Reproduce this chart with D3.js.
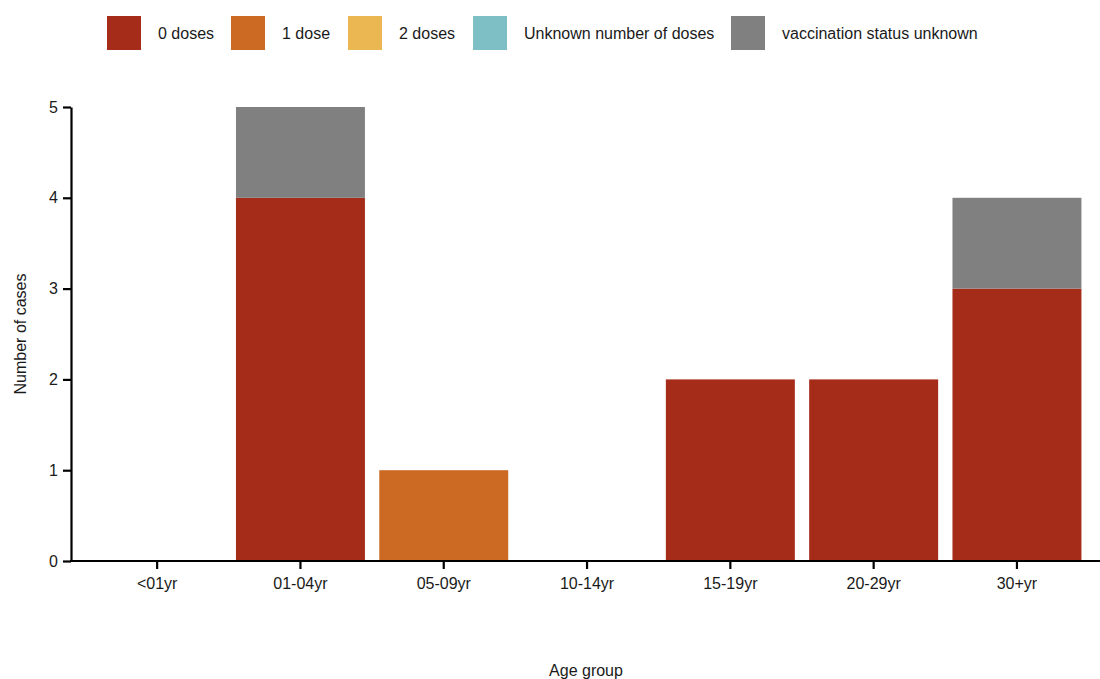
<!DOCTYPE html>
<html><head><meta charset="utf-8">
<script src="https://cdn.jsdelivr.net/npm/d3@7"></script>
<style>body{margin:0;background:#fff;font-family:"Liberation Sans",Arial,sans-serif;}</style>
</head><body><svg id="chart" width="1100" height="679"></svg>
<script>
const ageGroups = ["<01yr","01-04yr","05-09yr","10-14yr","15-19yr","20-29yr","30+yr"];
const seriesNames = ["0 doses","1 dose","2 doses","Unknown number of doses","vaccination status unknown"];
const seriesColors = ["#A62C1A","#CC6A24","#EAB753","#7EBEC5","#808080"];
const doses0 = [0,4,0,0,2,2,3];
const doses1 = [0,0,1,0,0,0,0];
const doses2 = [0,0,0,0,0,0,0];
const dosesUnknown = [0,0,0,0,0,0,0];
const statusUnknown = [0,1,0,0,0,0,1];
const yTicks = [0,1,2,3,4,5];

const FONT = "'Liberation Sans',Arial,sans-serif";
const seriesValues = [doses0,doses1,doses2,dosesUnknown,statusUnknown];
const rows = ageGroups.map((g,i)=>{const r={group:g}; seriesNames.forEach((s,j)=>r[s]=seriesValues[j][i]); return r;});
const stacked = d3.stack().keys(seriesNames)(rows);

const svg = d3.select("#chart");
const x = d3.scaleBand().domain(ageGroups).range([85.5,1088.6]).paddingInner(0.1).paddingOuter(0.05);
const y = d3.scaleLinear().domain([0,5]).range([561,107]);
const color = d3.scaleOrdinal().domain(seriesNames).range(seriesColors);

svg.append("g").selectAll("g").data(stacked).join("g")
  .attr("fill",d=>color(d.key))
  .selectAll("rect").data(d=>d).join("rect")
  .attr("x",d=>x(d.data.group))
  .attr("width",x.bandwidth())
  .attr("y",d=>y(d[1]))
  .attr("height",d=>y(d[0])-y(d[1]));

// y axis
const yAxis = svg.append("g").attr("transform","translate(71,0)")
  .call(d3.axisLeft(y).tickValues(yTicks).tickFormat(d3.format("d")).tickSize(8).tickSizeOuter(0));
yAxis.select(".domain").attr("stroke","#000").attr("stroke-width",2.2);
yAxis.selectAll(".tick line").attr("stroke","#000").attr("stroke-width",2.2);
yAxis.selectAll(".tick text").attr("font-size",16).attr("fill","#1a1a1a").attr("x",-13).attr("font-family",FONT);

// x axis
const xAxis = svg.append("g").attr("transform","translate(0,561)")
  .call(d3.axisBottom(x).tickSize(8).tickSizeOuter(0));
xAxis.select(".domain").attr("d","M70,0H1100").attr("stroke","#000").attr("stroke-width",2.2);
xAxis.selectAll(".tick line").attr("stroke","#000").attr("stroke-width",2.2);
xAxis.selectAll(".tick text").attr("font-size",16).attr("fill","#1a1a1a").attr("y",17).attr("font-family",FONT);

// axis titles
svg.append("text").attr("x",586).attr("y",676).attr("text-anchor","middle").attr("font-family",FONT)
  .attr("font-size",16).attr("fill","#1a1a1a").text("Age group");
svg.append("text").attr("transform","translate(26,334) rotate(-90)").attr("text-anchor","middle").attr("font-family",FONT)
  .attr("font-size",16).attr("fill","#1a1a1a").text("Number of cases");

// legend
const legendX = [107,231,348,473,731];
const lg = svg.append("g").selectAll("g").data(seriesNames).join("g")
  .attr("transform",(d,i)=>`translate(${legendX[i]},16)`);
lg.append("rect").attr("width",34).attr("height",34).attr("fill",d=>color(d));
lg.append("text").attr("x",51).attr("y",23).attr("font-size",16).attr("font-family",FONT).attr("fill","#1a1a1a").text(d=>d);
</script></body></html>
